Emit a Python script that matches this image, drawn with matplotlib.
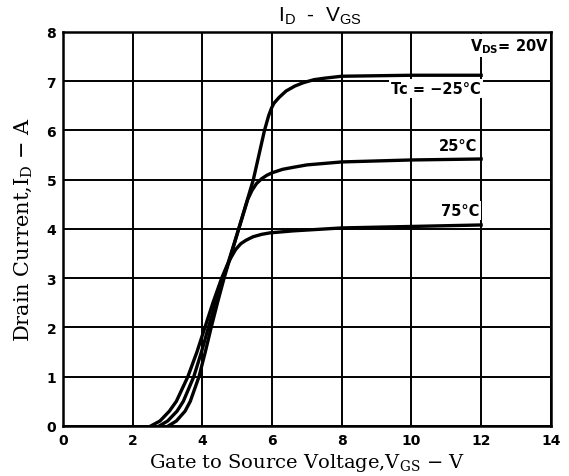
import matplotlib
matplotlib.use("Agg")
import matplotlib.pyplot as plt

# Data (V_GS in volts, I_D in amperes)
vgs_m25 = [3.02, 3.25, 3.50, 3.65, 3.90, 4.08, 4.25, 4.43, 4.62, 4.83, 5.04, 5.46, 5.78, 5.90, 5.98, 6.05, 6.20, 6.40, 6.65, 6.90, 7.20, 7.50, 8.00, 10.0, 12.0]
id_m25  = [0.00, 0.10, 0.30, 0.50, 1.00, 1.50, 2.00, 2.50, 3.00, 3.50, 4.00, 5.00, 6.00, 6.30, 6.45, 6.55, 6.67, 6.80, 6.90, 6.97, 7.03, 7.06, 7.10, 7.12, 7.12]

vgs_25 = [2.76, 3.00, 3.27, 3.45, 3.75, 3.97, 4.17, 4.38, 4.60, 4.82, 5.04, 5.30, 5.42, 5.55, 5.70, 5.85, 6.00, 6.30, 6.60, 7.00, 8.00, 10.0, 12.0]
id_25  = [0.00, 0.10, 0.30, 0.50, 1.00, 1.50, 2.00, 2.50, 3.00, 3.50, 4.00, 4.60, 4.78, 4.92, 5.02, 5.09, 5.14, 5.21, 5.25, 5.30, 5.36, 5.40, 5.42]

vgs_75 = [2.52, 2.78, 3.05, 3.25, 3.58, 3.84, 4.07, 4.30, 4.55, 4.70, 4.82, 4.95, 5.10, 5.25, 5.45, 5.70, 5.94, 6.60, 7.30, 8.00, 10.0, 12.0]
id_75  = [0.00, 0.10, 0.30, 0.50, 1.00, 1.50, 2.00, 2.50, 3.00, 3.25, 3.42, 3.58, 3.70, 3.77, 3.84, 3.89, 3.92, 3.96, 3.99, 4.02, 4.05, 4.08]

x_ticks = [0, 2, 4, 6, 8, 10, 12, 14]
y_ticks = [0, 1, 2, 3, 4, 5, 6, 7, 8]

fig = plt.figure(figsize=(5.69, 4.77), dpi=100)
ax = fig.add_axes([0.111, 0.105, 0.857, 0.826])

ax.set_xlim(0, 14)
ax.set_ylim(0, 8)
ax.set_xticks(x_ticks)
ax.set_yticks(y_ticks)
ax.grid(True, color="black", linewidth=1.4, zorder=1)
ax.set_axisbelow(True)
for s in ax.spines.values():
    s.set_linewidth(1.8)
ax.tick_params(length=0, pad=5)
for lab in ax.get_xticklabels() + ax.get_yticklabels():
    lab.set_fontweight("bold")
    lab.set_fontsize(10)
    lab.set_family("DejaVu Sans")

for xs, ys in [(vgs_m25, id_m25), (vgs_25, id_25), (vgs_75, id_75)]:
    ax.plot(xs, ys, color="black", linewidth=2.4, zorder=3,
            solid_joinstyle="round")
ax.plot([0, 3.0], [0, 0], color="black", linewidth=2.0, zorder=3)

box = dict(facecolor="white", edgecolor="none", pad=1.5)
tkw = dict(fontsize=10.5, fontweight="bold", family="DejaVu Sans", zorder=4)
ax.text(13.93, 7.72, r"V$_{\mathregular{DS}}$= 20V", ha="right", va="center", bbox=box, **tkw)
ax.text(12.0, 6.85, "Tc = −25°C", ha="right", va="center", bbox=box, **tkw)
ax.text(11.9, 5.7, "25°C", ha="right", va="center", bbox=box, **tkw)
ax.text(11.95, 4.38, "75°C", ha="right", va="center", bbox=box, **tkw)

ax.set_title(r"I$_{\mathregular{D}}$  -  V$_{\mathregular{GS}}$", fontsize=15,
             family="Liberation Sans", pad=8, x=0.527)
ax.set_xlabel(r"Gate to Source Voltage,V$_{\mathregular{GS}}$ − V", fontsize=14,
              family="DejaVu Serif", labelpad=3)
ax.set_ylabel(r"Drain Current,I$_{\mathregular{D}}$ − A", fontsize=15,
              family="DejaVu Serif", labelpad=8)

fig.savefig("out.png", dpi=100)
